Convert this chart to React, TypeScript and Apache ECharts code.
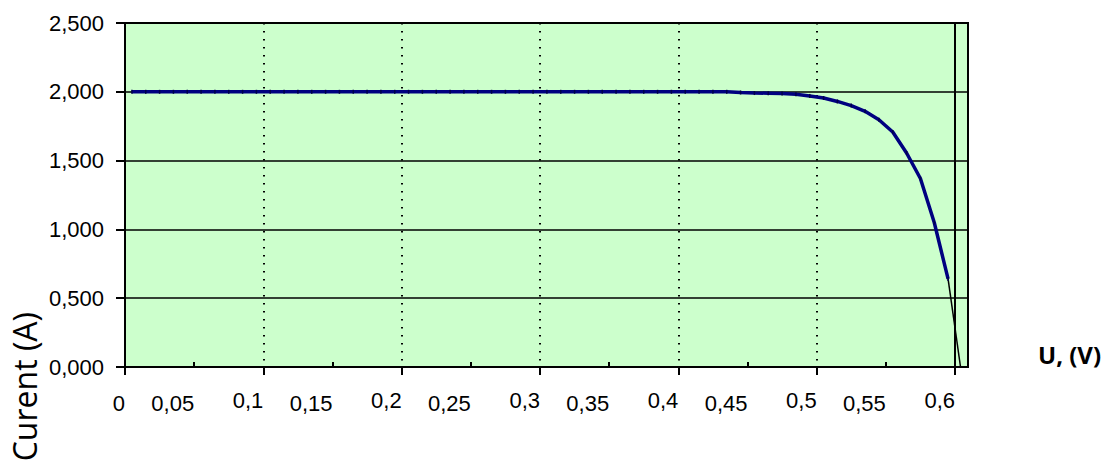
import React, { useEffect, useRef } from "react";
import * as echarts from "echarts";

// Measured I–V curve of a solar cell: voltage (V) and current (A)
const voltage = [
  0.005, 0.015, 0.025, 0.035, 0.045, 0.055, 0.065, 0.075, 0.085, 0.095,
  0.105, 0.115, 0.125, 0.135, 0.145, 0.155, 0.165, 0.175, 0.185, 0.195,
  0.205, 0.215, 0.225, 0.235, 0.245, 0.255, 0.265, 0.275, 0.285, 0.295,
  0.305, 0.315, 0.325, 0.335, 0.345, 0.355, 0.365, 0.375, 0.385, 0.395,
  0.405, 0.415, 0.425, 0.435, 0.445, 0.455, 0.465, 0.475, 0.485, 0.495,
  0.505, 0.515, 0.525, 0.535, 0.545, 0.555, 0.565, 0.575, 0.585, 0.595,
];
const current = [
  2.0, 2.0, 2.0, 2.0, 2.0, 2.0, 2.0, 2.0, 2.0, 2.0,
  2.0, 2.0, 2.0, 2.0, 2.0, 2.0, 2.0, 2.0, 2.0, 2.0,
  2.0, 2.0, 2.0, 2.0, 2.0, 2.0, 2.0, 2.0, 2.0, 2.0,
  2.0, 2.0, 2.0, 2.0, 2.0, 2.0, 2.0, 2.0, 2.0, 2.0,
  2.0, 2.0, 2.0, 2.0, 1.995, 1.991, 1.99, 1.987, 1.982, 1.97,
  1.955, 1.93, 1.9, 1.858, 1.797, 1.708, 1.555, 1.37, 1.05, 0.64,
];

// Extrapolated tail from the last measured point down to the open-circuit voltage
const tailVoltage = [0.595, 0.604];
const tailCurrent = [0.64, 0];

// Axis ticks and labels
const xLabelValues = [0, 0.05, 0.1, 0.15, 0.2, 0.25, 0.3, 0.35, 0.4, 0.45, 0.5, 0.55, 0.6];
const xTickLabels = ["0", "0,05", "0,1", "0,15", "0,2", "0,25", "0,3", "0,35", "0,4", "0,45", "0,5", "0,55", "0,6"];
const xMinorTicks = [0.05, 0.15, 0.25, 0.35, 0.45, 0.55];
const xMajorTicks = [0, 0.1, 0.2, 0.3, 0.4, 0.5, 0.6];
const vocLine = 0.6;
const xMax = 0.6094;
const yMax = 2.5;

const yAxisTitle = "Curent (A)";
const xAxisTitle = "U, (V)";

export default function App() {
  const ref = useRef<HTMLDivElement>(null);

  useEffect(() => {
    if (!ref.current) return;
    const chart = echarts.init(ref.current, null, { renderer: "svg" });
    const labelFont = "Liberation Sans, Arial, sans-serif";

    chart.setOption({
      animation: false,
      backgroundColor: "#ffffff",
      grid: {
        left: 125,
        top: 23,
        width: 843,
        height: 344,
        show: true,
        backgroundColor: "#CCFFCC",
        borderColor: "#000",
        borderWidth: 2,
      },
      xAxis: [
        {
          // main axis: line, labels, major ticks below it and dotted gridlines
          type: "value",
          min: 0,
          max: xMax,
          interval: 0.05,
          axisLine: { show: true, lineStyle: { color: "#000", width: 2 } },
          axisTick: {
            show: true,
            inside: false,
            length: 8,
            customValues: xMajorTicks,
            lineStyle: { color: "#000", width: 2 },
          },
          splitLine: {
            show: true,
            lineStyle: { color: "#000", width: 2, type: [1.5, 6.5] },
          },
          axisLabel: {
            customValues: xLabelValues,
            margin: 22,
            align: "right",
            verticalAlign: "top",
            formatter: (v: number) => {
              const i = xLabelValues.findIndex((t) => Math.abs(t - v) < 1e-6);
              if (i < 0) return "";
              const major = i > 0 && i % 2 === 0;
              return `{${major ? "hi" : "lo"}|${xTickLabels[i]}}`;
            },
            rich: {
              hi: { fontFamily: labelFont, fontSize: 22, color: "#000", padding: [0, 0, 0, 0] },
              lo: { fontFamily: labelFont, fontSize: 22, color: "#000", padding: [3, 0, 0, 0] },
            },
          },
        },
        {
          // overlay axis: short inner minor ticks only
          type: "value",
          min: 0,
          max: xMax,
          interval: 0.05,
          position: "bottom",
          axisLine: { show: true, lineStyle: { color: "#000", width: 2 } },
          axisTick: {
            show: true,
            inside: true,
            length: 5,
            customValues: xMinorTicks,
            lineStyle: { color: "#000", width: 2 },
          },
          axisLabel: { show: false },
          splitLine: { show: false },
        },
      ],
      yAxis: {
        type: "value",
        min: 0,
        max: yMax,
        interval: 0.5,
        axisLine: { show: true, lineStyle: { color: "#000", width: 2 } },
        axisTick: { show: true, inside: false, length: 9, lineStyle: { color: "#000", width: 2 } },
        axisLabel: {
          margin: 21,
          color: "#000",
          fontFamily: labelFont,
          fontSize: 22,
          formatter: (v: number) => v.toFixed(3).replace(".", ","),
        },
        splitLine: { show: true, lineStyle: { color: "#000", width: 1.5, type: "solid" } },
      },
      series: [
        {
          type: "line",
          name: "I(U)",
          xAxisIndex: 0,
          data: voltage.map((v, i) => [v, current[i]]),
          showSymbol: true,
          symbol: "rect",
          symbolSize: [1.5, 4],
          itemStyle: { color: "#00004a" },
          lineStyle: { color: "#000080", width: 3.5 },
          z: 5,
        },
        {
          type: "line",
          name: "tail",
          xAxisIndex: 0,
          data: tailVoltage.map((v, i) => [v, tailCurrent[i]]),
          showSymbol: false,
          lineStyle: { color: "#000", width: 1.5 },
          z: 4,
          markLine: {
            silent: true,
            symbol: "none",
            label: { show: false },
            lineStyle: { color: "#000", width: 2, type: "solid" },
            data: [{ xAxis: vocLine }],
          },
        },
      ],
      graphic: [
        {
          type: "text",
          x: 24,
          y: 312,
          rotation: Math.PI / 2,
          style: {
            text: yAxisTitle,
            fontFamily: "Open Sans, sans-serif",
            fontSize: 32,
            fill: "#000",
            align: "right",
            verticalAlign: "middle",
          },
        },
        {
          type: "text",
          x: 1038,
          y: 354,
          style: {
            text: xAxisTitle,
            fontFamily: "Open Sans, sans-serif",
            fontWeight: "bold",
            fontSize: 24,
            fill: "#000",
            align: "left",
            verticalAlign: "middle",
          },
        },
      ],
    });

    return () => chart.dispose();
  }, []);

  return (
    <div
      ref={ref}
      style={{ position: "fixed", left: 0, top: 0, width: 1107, height: 465, background: "#fff" }}
    />
  );
}
